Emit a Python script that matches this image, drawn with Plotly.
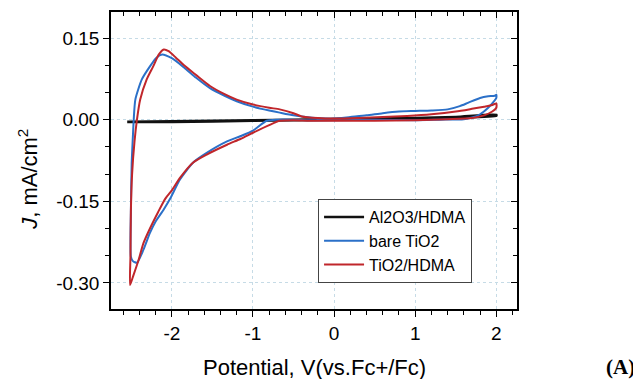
import plotly.graph_objects as go

# ---- data ----
al2o3_x = [-2.55, -2.0, -1.0, 0.0, 1.0, 1.5, 2.0, 2.0, 1.5, 1.0, 0.0, -1.0, -2.0, -2.55]
al2o3_y = [-0.004, -0.003, -0.001, 0.001, 0.003, 0.005, 0.009, 0.007, 0.004, 0.002, 0.000, -0.002, -0.004, -0.004]

bare_x = [-2.505, -2.505, -2.495, -2.48, -2.47, -2.45, -2.37, -2.27, -2.19, -2.12, -2.0, -1.85, -1.7,
          -1.53, -1.35, -1.2, -1.0, -0.8, -0.67, -0.5, -0.3, -0.1, 0.0, 0.2, 0.4, 0.6, 0.8, 1.0, 1.2,
          1.4, 1.55, 1.65, 1.8, 1.9, 1.98, 2.0,
          2.0, 1.95, 1.9, 1.8, 1.7, 1.6, 1.3, 1.0, 0.5, 0.0, -0.3, -0.5, -0.7, -0.83, -1.0, -1.15,
          -1.32, -1.57, -1.74, -1.9, -2.02, -2.1, -2.2, -2.27, -2.35, -2.43, -2.48, -2.505]
bare_y = [-0.252, -0.17, -0.08, -0.03, 0.0, 0.037, 0.074, 0.098, 0.114, 0.120, 0.113, 0.096, 0.077,
          0.058, 0.044, 0.034, 0.024, 0.017, 0.013, 0.008, 0.004, 0.002, 0.002, 0.005, 0.008, 0.012,
          0.015, 0.016, 0.017, 0.019, 0.025, 0.031, 0.040, 0.043, 0.044, 0.046,
          0.040, 0.030, 0.022, 0.010, 0.004, 0.001, 0.000, -0.001, 0.000, -0.001, -0.001, 0.000,
          0.000, -0.002, -0.020, -0.030, -0.040, -0.061, -0.079, -0.110, -0.145, -0.165, -0.187,
          -0.208, -0.239, -0.263, -0.260, -0.252]

hdma_x = [-2.515, -2.51, -2.505, -2.49, -2.46, -2.43, -2.39, -2.31, -2.23, -2.16, -2.10, -2.04, -1.95,
          -1.85, -1.7, -1.53, -1.35, -1.2, -1.0, -0.8, -0.67, -0.5, -0.4, -0.2, 0.0, 0.3, 0.6, 0.9,
          1.2, 1.5, 1.7, 1.85, 1.95, 2.0,
          2.0, 1.95, 1.85, 1.7, 1.4, 1.0, 0.5, 0.0, -0.3, -0.5, -0.67, -0.8, -1.0, -1.15, -1.32,
          -1.57, -1.74, -1.9, -2.0, -2.08, -2.17, -2.27, -2.35, -2.41, -2.48, -2.515]
hdma_y = [-0.304, -0.25, -0.17, -0.10, -0.04, 0.0, 0.037, 0.074, 0.098, 0.120, 0.129, 0.126, 0.114,
          0.100, 0.082, 0.062, 0.047, 0.037, 0.028, 0.022, 0.019, 0.012, 0.006, 0.003, 0.002, 0.003,
          0.005, 0.007, 0.010, 0.015, 0.020, 0.024, 0.027, 0.030,
          0.022, 0.015, 0.008, 0.003, 0.001, -0.001, -0.002, -0.002, -0.002, -0.001, -0.002, -0.010,
          -0.024, -0.035, -0.046, -0.064, -0.079, -0.107, -0.130, -0.145, -0.170, -0.200, -0.227,
          -0.258, -0.289, -0.304]

x_ticks = [-2, -1, 0, 1, 2]
x_ticktext = ["-2", "-1", "0", "1", "2"]
y_ticks = [0.15, 0.0, -0.15, -0.30]
y_ticktext = ["0.15", "0.00", "-0.15", "-0.30"]

series = [
    ("Al2O3/HDMA", al2o3_x, al2o3_y, "#111111", 2.6),
    ("bare TiO2", bare_x, bare_y, "#2b70c8", 2.0),
    ("TiO2/HDMA", hdma_x, hdma_y, "#c0262b", 2.0),
]

XR = [-2.75, 2.255]
YR = [-0.348, 0.198]
FONT = "Liberation Sans, Arial, sans-serif"

fig = go.Figure()
for name, xs, ys, col, w in series:
    fig.add_trace(go.Scatter(x=xs, y=ys, mode="lines", name=name,
                             line=dict(color=col, width=w, shape="spline", smoothing=0.6)))
# invisible carrier so the mirrored (inside-tick) top/right axes are drawn
fig.add_trace(go.Scatter(x=al2o3_x, y=al2o3_y, xaxis="x2", yaxis="y2", mode="lines",
                         line=dict(width=0), opacity=0, showlegend=False, hoverinfo="skip"))

axis_common = dict(showline=True, linecolor="black", linewidth=1.5, zeroline=False)

fig.update_layout(
    width=633, height=371,
    margin=dict(l=103, r=124, t=4, b=70),
    paper_bgcolor="white", plot_bgcolor="white",
    font=dict(family=FONT, color="black", size=19),
    showlegend=True,
    legend=dict(x=0.51, y=0.37, xanchor="left", yanchor="top",
                bordercolor="#444444", borderwidth=1, bgcolor="white",
                font=dict(size=16, family=FONT), tracegroupgap=0,
                itemwidth=40),
    xaxis=dict(range=XR, tickvals=x_ticks, ticktext=x_ticktext, ticks="outside",
               ticklen=6, tickwidth=1.2, tickcolor="black",
               showgrid=True, gridcolor="#c6dbe6", griddash="dot", gridwidth=1,
               minor=dict(dtick=0.2, tick0=0, ticks="outside", ticklen=4, tickcolor="black", showgrid=False),
               tickfont=dict(size=19), **axis_common),
    yaxis=dict(range=YR, tickvals=y_ticks, ticktext=y_ticktext, ticks="outside",
               ticklen=6, tickwidth=1.2, tickcolor="black",
               showgrid=True, gridcolor="#c6dbe6", griddash="dot", gridwidth=1,
               minor=dict(dtick=0.05, tick0=0, ticks="outside", ticklen=4, tickcolor="black", showgrid=False),
               tickfont=dict(size=19), **axis_common),
    xaxis2=dict(range=XR, overlaying="x", side="top", anchor="y2", tickvals=x_ticks,
                showticklabels=False, ticks="inside", ticklen=6, tickcolor="black", showgrid=False,
                minor=dict(dtick=0.2, tick0=0, ticks="inside", ticklen=4, tickcolor="black"),
                **axis_common),
    yaxis2=dict(range=YR, overlaying="y", side="right", anchor="x2", tickvals=y_ticks,
                showticklabels=False, ticks="inside", ticklen=6, tickcolor="black", showgrid=False,
                minor=dict(dtick=0.05, tick0=0, ticks="inside", ticklen=4, tickcolor="black"),
                **axis_common),
)

fig.add_annotation(text="<i>J</i>, mA/cm<sup>2</sup>", xref="paper", yref="paper",
                   x=-0.2046, y=0.438, textangle=-90, showarrow=False,
                   font=dict(size=22, family=FONT), xanchor="center", yanchor="middle")
fig.add_annotation(text="Potential, V(vs.Fc+/Fc)", xref="paper", yref="paper",
                   x=0.5004, y=-0.196, showarrow=False,
                   font=dict(size=22, family=FONT), xanchor="center", yanchor="middle")
fig.add_annotation(text="<b>(A)</b>", xref="paper", yref="paper",
                   x=1.2546, y=-0.196, showarrow=False,
                   font=dict(size=21, family="Liberation Serif, Times New Roman, serif"),
                   xanchor="center", yanchor="middle")

fig.write_html("out.html")
